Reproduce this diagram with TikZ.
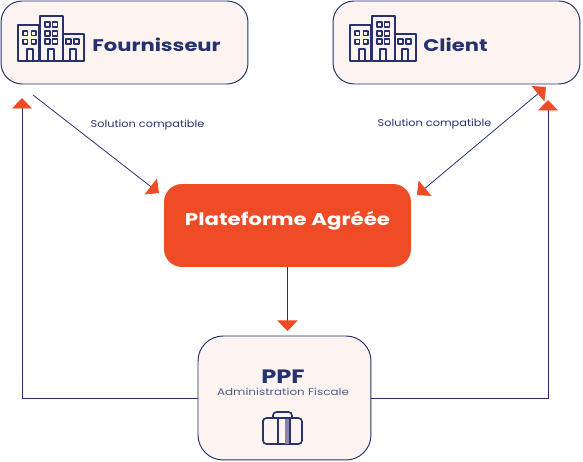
\documentclass[tikz,border=0pt]{standalone}
\usepackage{fontspec}
\setmainfont{Poppins}
\newfontfamily\widefont[FakeStretch=1.25]{Poppins}
\newfontfamily\midfont[FakeStretch=1.15]{Poppins}
\usetikzlibrary{arrows.meta}
\definecolor{navy}{RGB}{38,50,110}
\definecolor{lilac}{RGB}{138,130,170}
\definecolor{accent}{RGB}{238,75,38}
\definecolor{blush}{RGB}{253,243,241}
\tikzset{
  pbox/.style={rectangle, rounded corners=0.42cm, draw=navy, line width=0.55pt,
    fill=blush, inner sep=0pt, minimum width=4.94cm, minimum height=1.66cm},
  pftbox/.style={pbox, draw=none, fill=accent, rounded corners=0.36cm},
  titlelbl/.style={font=\widefont\fontsize{9.6}{12}\selectfont\bfseries, text=navy, inner sep=0pt},
  smalllbl/.style={font=\midfont\fontsize{5.6}{7}\selectfont, text=navy, inner sep=0pt},
  garr/.style={-{Triangle[length=0.21cm, width=0.4cm, color=accent]}, navy, line width=0.45pt},
  gdbl/.style={{Triangle[length=0.21cm, width=0.4cm, color=accent]}-{Triangle[length=0.21cm, width=0.4cm, color=accent]}, navy, line width=0.45pt},
  icon/.style={navy, line width=0.95pt, line join=round},
  pics/buildings/.style={code={
    \draw[icon] (0,10) rectangle (21,46);
    \draw[icon] (22,1) rectangle (45,46);
    \draw[icon] (45,19) rectangle (66,46);
    \foreach \px in {5,13.5} \foreach \py in {16,24.5}
      \draw[icon, line width=0.65pt] (\px,\py) rectangle ++(4.5,4.5);
    \foreach \px in {27,34.5} \foreach \py in {7,16,24}
      \draw[icon, line width=0.65pt] (\px,\py) rectangle ++(5,5);
    \foreach \px in {48,56}
      \draw[icon, line width=0.65pt] (\px,24) rectangle ++(5,5);
    \foreach \px in {9,30,52}
      \draw[icon, line width=0.65pt] (\px,46) |- ++(6,-12) -- ++(0,12);
  }}
}
\begin{document}
\begin{tikzpicture}[x=0.02cm, y=-0.02cm]
  \useasboundingbox (0,0) rectangle (583,462);

  \node[pbox] (four) at (124.5,42.5) {};
  \node[pbox] (clnt) at (456.5,42.5) {};
  \node[pftbox] (plat) at (287.5,225.5) {};
  \node[pbox, minimum width=3.46cm, minimum height=2.48cm, rounded corners=0.5cm] (ppf) at (284.5,398) {};

  \pic at (18,15) {buildings};
  \pic at (350,15) {buildings};
  \node[titlelbl, anchor=west] (fourlbl) at (92,44.5) {Fournisseur};
  \node[titlelbl, anchor=west] (clntlbl) at (423,44.5) {Client};
  \node[titlelbl, font=\widefont\fontsize{9.7}{12}\selectfont\bfseries, text=white] (platlbl) at (287.5,221) {Plateforme Agréée};
  \node[titlelbl, font=\widefont\fontsize{11}{12}\selectfont\bfseries] (ppflbl) at (283,376.5) {PPF};
  \node[smalllbl, font=\widefont\fontsize{5.45}{7}\selectfont, text=navy!80] (admlbl) at (283,391.5) {Administration Fiscale};
  \node[smalllbl] (sol1) at (147.5,125) {Solution compatible};
  \node[smalllbl] (sol2) at (434.5,124) {Solution compatible};

  % free ends
  \coordinate (fs) at (33,95);
  \coordinate (ft) at (159,193);
  \coordinate (cs) at (546,87);
  \coordinate (ct) at (417,195);
  \coordinate (lt) at (22,98);
  \coordinate (rt) at (548,100);
  \coordinate (pt) at (287.5,331);

  \draw[garr] (fs)--(ft);
  \draw[gdbl] (cs)--(ct);
  \draw[garr] (plat.south)--(pt);
  \draw[garr] (ppf.west)-|(lt);
  \draw[garr] (ppf.east)-|(rt);

  % suitcase
  \draw[icon, rounded corners=2pt] (263,424) |- (302,418) |- (263,444) -- cycle;
  \fill[lilac] (285,418) rectangle (289.5,444);
  \draw[icon, line width=0.65pt] (278,444) |- (290,418) -- (290,444);
  \draw[icon, rounded corners=2pt] (273,418) |- (292,412) -- (292,418);
\end{tikzpicture}
\end{document}
